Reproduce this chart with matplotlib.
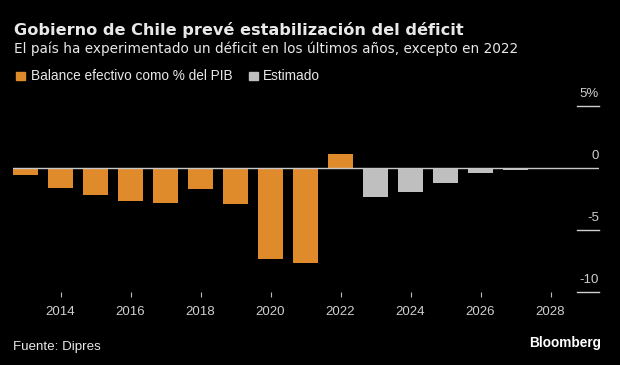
import matplotlib
matplotlib.use("Agg")
import matplotlib.pyplot as plt
from matplotlib.patches import Rectangle
from matplotlib import font_manager

# ---------------- data ----------------
actual_years = [2013, 2014, 2015, 2016, 2017, 2018, 2019, 2020, 2021, 2022]
actual_values = [-0.55, -1.6, -2.15, -2.7, -2.8, -1.7, -2.9, -7.3, -7.7, 1.1]
est_years = [2023, 2024, 2025, 2026, 2027, 2028, 2029]
est_values = [-2.3, -1.9, -1.2, -0.4, -0.2, -0.1, -0.05]
xtick_years = [2014, 2016, 2018, 2020, 2022, 2024, 2026, 2028]
ytick_values = [5, 0, -5, -10]
ytick_labels = ["5%", "0", "-5", "-10"]

title = "Gobierno de Chile prevé estabilización del déficit"
subtitle = "El país ha experimentado un déficit en los últimos años, excepto en 2022"
legend_labels = ["Balance efectivo como % del PIB", "Estimado"]
source = "Fuente: Dipres"
brand = "Bloomberg"

# ---------------- style ----------------
names = {f.name for f in font_manager.fontManager.ttflist}
FONT = "Liberation Sans" if "Liberation Sans" in names else "DejaVu Sans"
plt.rcParams["font.family"] = [FONT, "DejaVu Sans"]

ORANGE = "#E08B2B"
GRAY = "#BFBFBF"
TEXT = "#E8E8E8"
TICK = "#CFCFCF"

W, H = 620, 365
fig = plt.figure(figsize=(W / 100, H / 100), dpi=100, facecolor="black")

def fx(px):
    return px / W

def fy(py):
    return 1 - py / H

ax_left, ax_right, ax_top, ax_bottom = 13, 599, 106, 292
ax = fig.add_axes([fx(ax_left), fy(ax_bottom), (ax_right - ax_left) / W, (ax_bottom - ax_top) / H])
ax.set_facecolor("black")

ax.bar(actual_years, actual_values, width=0.69, color=ORANGE, zorder=2)
ax.bar(est_years, est_values, width=0.69, color=GRAY, zorder=2)

x0 = 2013 - 12.5 / 35
ax.set_xlim(x0, x0 + (ax_right - ax_left) / 35)
ax.set_ylim(-10, 5)

ax.axhline(0, color="#C8C8C8", lw=1.0, zorder=3)
for v in ytick_values:
    if v != 0:
        ax.axhline(v, xmin=(577 - ax_left) / (ax_right - ax_left), xmax=1,
                   color="#D0D0D0", lw=1.0, clip_on=False)
for v, lab in zip(ytick_values, ytick_labels):
    ax.annotate(lab, xy=(1, v), xycoords=("axes fraction", "data"),
                xytext=(0, 6.5), textcoords="offset points",
                ha="right", va="baseline", color=TICK, fontsize=9.5,
                annotation_clip=False)

for s in ax.spines.values():
    s.set_visible(False)
ax.set_yticks([])
ax.set_xticks(xtick_years)
ax.set_xticklabels([str(y) for y in xtick_years])
ax.tick_params(axis="x", length=3.6, width=0.8, color="#BBBBBB",
               labelcolor=TICK, labelsize=9.5, pad=6.3)

# ---------------- texts ----------------
fig.text(fx(14), fy(35), title, color=TEXT, fontsize=11.6, fontweight="bold",
         va="baseline", ha="left", family=["DejaVu Sans"])
fig.text(fx(14), fy(53), subtitle, color=TEXT, fontsize=9.8,
         va="baseline", ha="left", family=["DejaVu Sans"])

fig.patches.append(Rectangle((fx(15.7), fy(80)), 9 / W, 8.5 / H, color=ORANGE,
                             transform=fig.transFigure, figure=fig))
fig.text(fx(30.7), fy(80), legend_labels[0], color=TEXT, fontsize=9.8,
         va="baseline", ha="left")
fig.patches.append(Rectangle((fx(249), fy(80)), 8.5 / W, 8.5 / H, color=GRAY,
                             transform=fig.transFigure, figure=fig))
fig.text(fx(263), fy(80), legend_labels[1], color=TEXT, fontsize=9.8,
         va="baseline", ha="left")

fig.text(fx(13.3), fy(350), source, color=TEXT, fontsize=9.6,
         va="baseline", ha="left")
fig.text(fx(601), fy(347), brand, color="white", fontsize=9.8, fontweight="bold",
         va="baseline", ha="right")

fig.savefig("out.png", dpi=100, facecolor="black")
